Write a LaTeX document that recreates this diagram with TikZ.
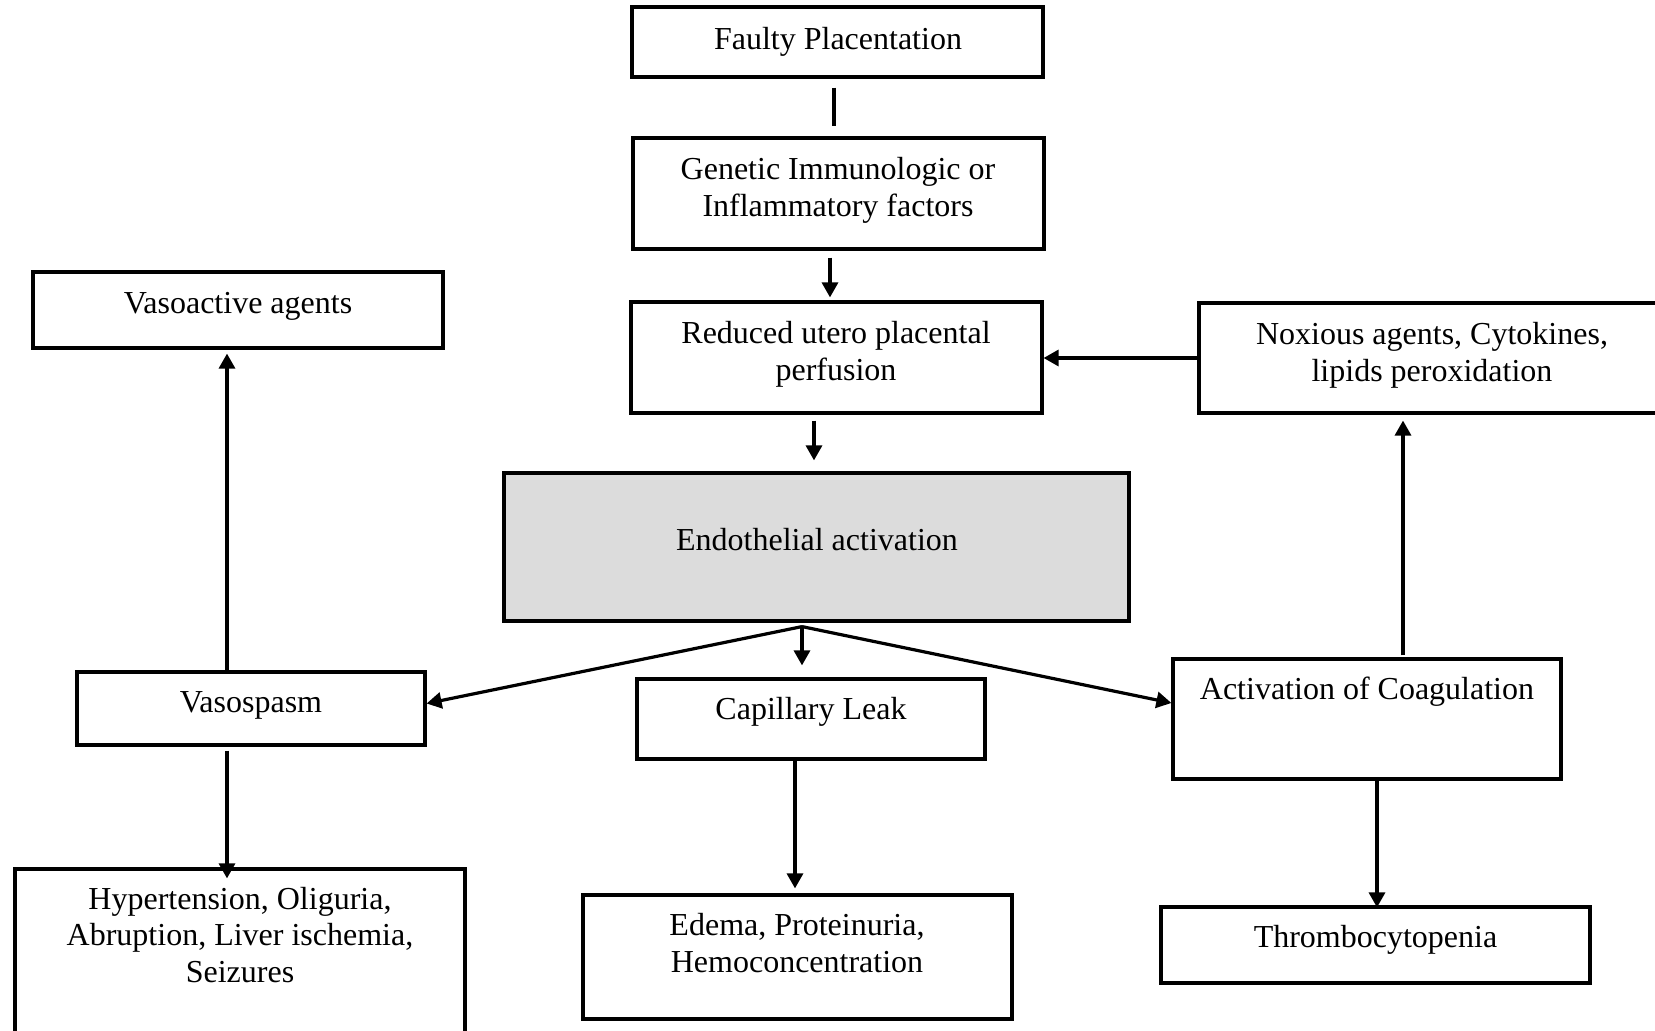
\documentclass[tikz,border=0pt]{standalone}
\usepackage{fontspec}
\setmainfont{Liberation Serif}
\usetikzlibrary{arrows.meta,calc}
\definecolor{endofill}{HTML}{DCDCDC}
\newcommand\mylines[1]{\begin{tabular}[t]{@{}c@{}}#1\end{tabular}}
\begin{document}
\begin{tikzpicture}[x=0.5pt,y=-0.5pt,
  every node/.style={font=\fontsize{16pt}{18.4pt}\selectfont},
  box/.style={draw,line width=1.6pt,inner sep=0pt},
  txt/.style={inner sep=0pt,anchor=base},
  ln/.style={line width=1.6pt},
  arr/.style={line width=1.6pt,-{Triangle[width=8pt,length=7.5pt]}}]
\useasboundingbox (0,0) rectangle (1655,1031);
% boxes
\node[box,minimum width=205.5pt,minimum height=35pt] (fp) at (837.5,42) {};
\node[box,minimum width=205.5pt,minimum height=55.5pt] (gen) at (838.5,193.5) {};
\node[box,minimum width=205.5pt,minimum height=55.5pt] (red) at (836.5,357.5) {};
\node[box,fill=endofill,minimum width=312.5pt,minimum height=74pt] (endo) at (816.5,547) {};
\node[box,minimum width=233pt,minimum height=55pt] (nox) at (1432,358) {};
\node[box,minimum width=205pt,minimum height=38pt] (vsa) at (238,310) {};
\node[box,minimum width=174pt,minimum height=36.5pt] (vsp) at (251,708.5) {};
\node[box,minimum width=174pt,minimum height=40pt] (cap) at (811,719) {};
\node[box,minimum width=194pt,minimum height=60pt] (act) at (1367,719) {};
\node[box,minimum width=214.5pt,minimum height=38pt] (thr) at (1375.5,945) {};
\node[box,minimum width=214.5pt,minimum height=62pt] (edm) at (797.5,957) {};
\node[box,minimum width=225pt,minimum height=91pt] (hyp) at (240,960) {};
% texts
\node[txt] (fp-t) at (838,49.5) {Faulty Placentation};
\node[txt] (gen-t) at (838,180) {\mylines{Genetic Immunologic or\\Inflammatory factors}};
\node[txt] (red-t) at (836,343.5) {\mylines{Reduced utero placental\\perfusion}};
\node[txt] (endo-t) at (817,550.5) {Endothelial activation};
\node[txt] (nox-t) at (1432,344.5) {\mylines{Noxious agents, Cytokines,\\lipids peroxidation}};
\node[txt] (vsa-t) at (238,313.5) {Vasoactive agents};
\node[txt] (vsp-t) at (251,712.5) {Vasospasm};
\node[txt] (cap-t) at (811,719) {Capillary Leak};
\node[txt] (act-t) at (1367,699) {Activation of Coagulation};
\node[txt] (thr-t) at (1375.5,947) {Thrombocytopenia};
\node[txt] (edm-t) at (797,935.5) {\mylines{Edema, Proteinuria,\\Hemoconcentration}};
\node[txt] (hyp-t) at (240,909) {\mylines{Hypertension, Oliguria,\\Abruption, Liver ischemia,\\Seizures}};
% connectors
\draw[ln] ($(fp.south)+(-3.5,9)$) -- ($(gen.north)+(-4.5,-10)$);
\draw[arr] ($(gen.south)+(-8.5,7)$) -- ($(red.north)+(-6.5,-3)$);
\draw[arr] ($(red.south)+(-22.5,6)$) -- ($(endo.north)+(-2.5,-11)$);
\draw[arr] (nox.west) -- (nox.west -| red.east);
\coordinate (fan) at ($(endo.south)+(-14.5,4)$);
\draw[arr] (fan) -- ($(vsp.east)+(0,-5)$);
\draw[arr] (fan) -- ($(act.west)+(0,-16)$);
\draw[arr] (fan) -- ($(cap.north)+(-9,-12)$);
\draw[arr] ($(vsp.north)+(-24,0)$) -- ($(vsa.south)+(-11,4)$);
\draw[arr] ($(vsp.south)+(-24,4)$) -- ($(hyp.north)+(-13,11)$);
\draw[arr] ($(cap.south)+(-16,0)$) -- ($(edm.north)+(-2.5,-5)$);
\draw[arr] ($(act.north)+(36,-2)$) -- ($(nox.south)+(-29,6)$);
\draw[arr] ($(act.south)+(10,0)$) -- ($(thr.north)+(1.5,2)$);
\end{tikzpicture}
\end{document}
